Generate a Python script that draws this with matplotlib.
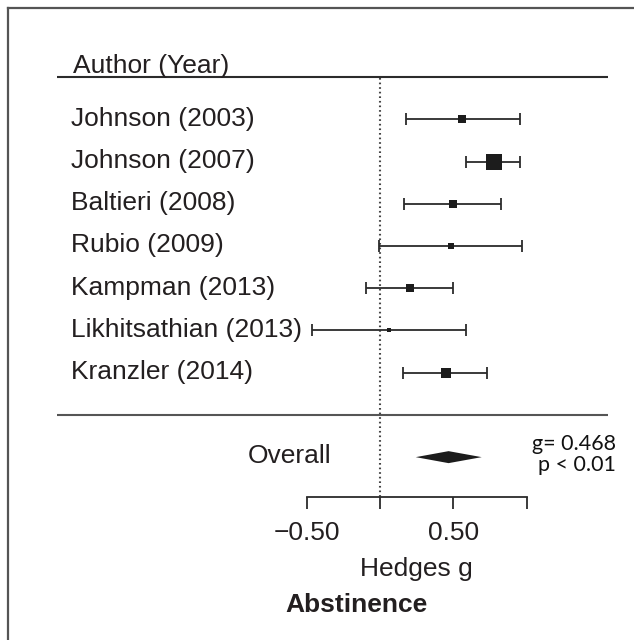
import numpy as np
import matplotlib
matplotlib.use("Agg")
import matplotlib.pyplot as plt
from matplotlib.lines import Line2D

# ---- data ----
studies = ["Johnson (2003)", "Johnson (2007)", "Baltieri (2008)", "Rubio (2009)",
           "Kampman (2013)", "Likhitsathian (2013)", "Kranzler (2014)"]
effect = [0.56, 0.78, 0.50, 0.485, 0.205, 0.06, 0.448]
ci_low = [0.18, 0.585, 0.166, -0.01, -0.096, -0.466, 0.155]
ci_high = [0.956, 0.956, 0.824, 0.967, 0.50, 0.585, 0.73]
weights = [11.1, 37.7, 11.1, 7.2, 12.2, 3.5, 17.1]   # relative study weight (%)
overall_est = 0.468
overall_low = 0.244
overall_high = 0.694
tick_values = [-0.5, 0.0, 0.5, 1.0]
tick_labels = ["\u22120.50", "", "0.50", ""]
stats_text = ["g= 0.468", "p < 0.01"]

# ---- style ----
TXT = "#231f20"
LINE = "#2b2b2b"
FONT = "Liberation Sans"
FS = 19

W, H, DPI = 634, 640, 100
fig = plt.figure(figsize=(W / DPI, H / DPI), dpi=DPI)
ax = fig.add_axes([0, 0, 1, 1])

# pixel mapping: x0 at 380 px, 146.5 px per unit; row 0 at 119.3 px, 42.23 px per row
xs, x0 = 146.5, 380.0
ys, y0 = 42.23, 119.3
ax.set_xlim(-x0 / xs, (W - x0) / xs)
ax.set_ylim((H - y0) / ys, -y0 / ys)

rows = np.arange(len(studies))
AXIS_ROW = 8.94
OVERALL_ROW = 8

# header & separator lines
ax.plot([-2.205, 1.556], [-1.0, -1.0], color=LINE, lw=1.5, solid_capstyle="butt")
ax.plot([-2.205, 1.556], [7.0, 7.0], color="#555555", lw=1.5, solid_capstyle="butt")

# reference (null) line
ax.plot([0, 0], [-0.97, AXIS_ROW], color="#444444", lw=1.5, linestyle=(0, (0.8, 1.4)))

# study CIs and boxes
ax.errorbar(effect, rows, xerr=[np.array(effect) - np.array(ci_low),
                                 np.array(ci_high) - np.array(effect)],
            fmt="none", ecolor=LINE, elinewidth=1.3, capsize=4.3, capthick=1.3)
for e, r, w in zip(effect, rows, weights):
    side_px = 25.5 * np.sqrt(w / 100.0)
    ax.plot([e], [r], marker="s", markersize=side_px * 0.72, color="#1c1c1c",
            markeredgewidth=0, linestyle="none")

# overall diamond
hh = 6.0 / ys
ax.fill([overall_low, overall_est, overall_high, overall_est],
        [OVERALL_ROW, OVERALL_ROW - hh, OVERALL_ROW, OVERALL_ROW + hh],
        color="#1c1c1c", lw=0)

# labels
ax.text(-2.096, -1.096, "Author (Year)", fontsize=FS, family=FONT, color=TXT,
        ha="left", va="baseline")
for r, s in zip(rows, studies):
    ax.text(-2.109, r + 0.15, s, fontsize=FS, family=FONT, color=TXT,
            ha="left", va="baseline")
ax.text(-0.334, 8.13, "Overall", fontsize=FS, family=FONT, color=TXT,
        ha="right", va="baseline")
ax.text(1.611, 7.83, stats_text[0], fontsize=15.5, family="Lato", color="#111111",
        ha="right", va="baseline")
ax.text(1.611, 8.32, stats_text[1], fontsize=15.5, family="Lato", color="#111111",
        ha="right", va="baseline")
ax.text(0.25, 10.815, "Hedges g", fontsize=FS, family=FONT, color=TXT,
        ha="center", va="baseline")
ax.text(-0.159, 11.66, "Abstinence", fontsize=FS, family=FONT, color=TXT,
        fontweight="bold", ha="center", va="baseline")

# x axis
for sp in ["top", "left", "right"]:
    ax.spines[sp].set_visible(False)
ax.spines["bottom"].set_position(("data", AXIS_ROW))
ax.spines["bottom"].set_bounds(-0.5, 1.0)
ax.spines["bottom"].set_color(LINE)
ax.spines["bottom"].set_linewidth(1.3)
ax.set_xticks(tick_values)
ax.set_xticklabels(tick_labels, fontsize=FS, family=FONT, color=TXT)
ax.tick_params(axis="x", direction="out", length=8.8, width=1.3, color=LINE, pad=8.5)
ax.set_yticks([])

# outer frame (left and top edges)
fig.add_artist(Line2D([7.5 / W, 7.5 / W], [0, 1 - 7.5 / H], color="#555555", lw=1.6))
fig.add_artist(Line2D([7.5 / W, 1], [1 - 7.5 / H, 1 - 7.5 / H], color="#555555", lw=1.6))

fig.savefig("out.png", dpi=DPI)
